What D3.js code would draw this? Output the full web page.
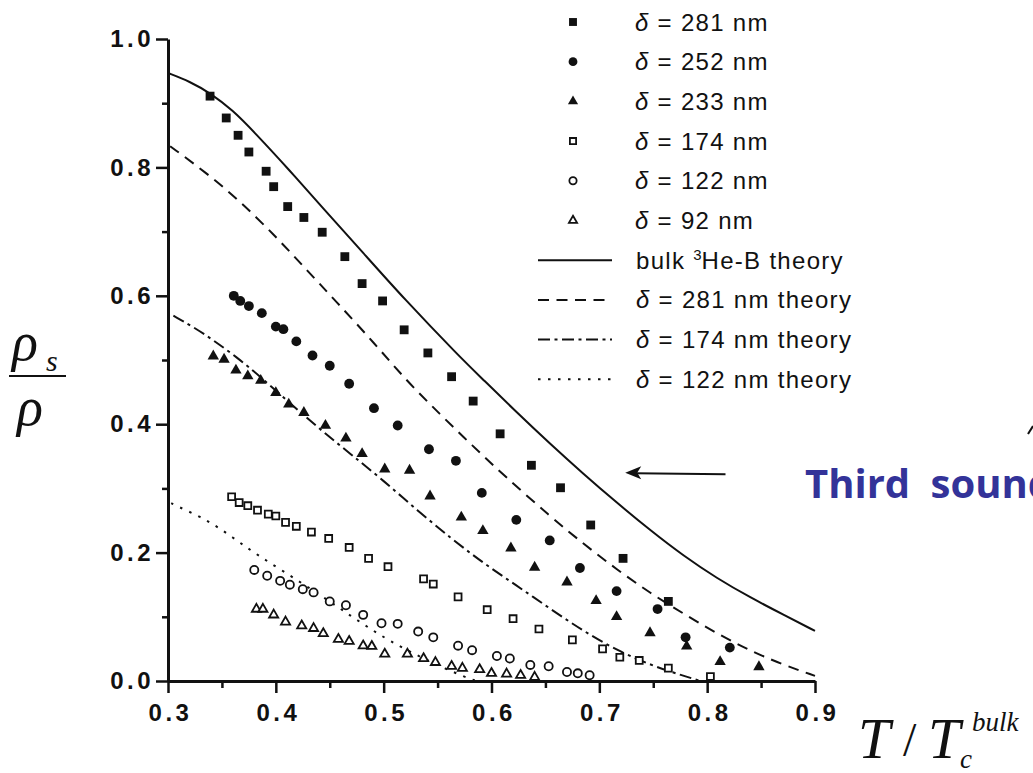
<!DOCTYPE html>
<html><head><meta charset="utf-8">
<script src="https://cdn.jsdelivr.net/npm/d3@7"></script>
<style>
html,body{margin:0;padding:0;background:#fff;}
svg{display:block;}
</style></head>
<body>
<svg id="chart" width="1033" height="773"></svg>
<script>
// ---------- data ----------
const xTicks = [0.3, 0.4, 0.5, 0.6, 0.7, 0.8, 0.9];
const xMinorTicks = [0.35, 0.45, 0.55, 0.65, 0.75, 0.85];
const yTicks = [0.0, 0.2, 0.4, 0.6, 0.8, 1.0];
const yMinorTicks = [0.1, 0.3, 0.5, 0.7, 0.9];

// measured superfluid fraction, [T/Tc, rho_s/rho]
const d281 = [[0.339,0.911],[0.354,0.877],[0.365,0.850],[0.375,0.824],[0.391,0.794],[0.398,0.770],
  [0.411,0.739],[0.426,0.722],[0.443,0.699],[0.464,0.661],[0.480,0.619],[0.499,0.592],[0.519,0.547],
  [0.541,0.511],[0.563,0.474],[0.583,0.436],[0.608,0.385],[0.637,0.336],[0.664,0.301],[0.692,0.243],
  [0.722,0.191],[0.764,0.124]];
const d252 = [[0.361,0.600],[0.367,0.592],[0.375,0.584],[0.387,0.573],[0.400,0.552],[0.407,0.548],
  [0.419,0.529],[0.434,0.507],[0.450,0.491],[0.468,0.463],[0.491,0.425],[0.513,0.398],[0.542,0.361],
  [0.567,0.343],[0.591,0.293],[0.623,0.251],[0.654,0.219],[0.682,0.176],[0.716,0.140],[0.754,0.112],
  [0.780,0.068],[0.821,0.052]];
const d233 = [[0.342,0.506],[0.352,0.501],[0.363,0.484],[0.374,0.475],[0.386,0.468],[0.400,0.449],
  [0.412,0.431],[0.426,0.418],[0.446,0.398],[0.465,0.378],[0.480,0.354],[0.501,0.330],[0.524,0.328],
  [0.543,0.288],[0.572,0.255],[0.592,0.234],[0.618,0.207],[0.640,0.177],[0.670,0.154],[0.697,0.125],
  [0.716,0.100],[0.747,0.075],[0.781,0.054],[0.812,0.030],[0.848,0.022]];
const d174 = [[0.359,0.287],[0.366,0.278],[0.374,0.273],[0.383,0.266],[0.393,0.260],[0.400,0.257],
  [0.409,0.247],[0.419,0.241],[0.433,0.232],[0.449,0.222],[0.468,0.208],[0.486,0.191],[0.504,0.178],
  [0.537,0.159],[0.546,0.151],[0.569,0.131],[0.596,0.111],[0.620,0.097],[0.644,0.081],[0.675,0.064],
  [0.703,0.050],[0.719,0.037],[0.737,0.032],[0.764,0.020],[0.803,0.007]];
const d122 = [[0.380,0.173],[0.392,0.164],[0.404,0.156],[0.413,0.150],[0.425,0.143],[0.435,0.138],
  [0.450,0.124],[0.465,0.118],[0.481,0.103],[0.498,0.090],[0.513,0.089],[0.532,0.077],[0.546,0.068],
  [0.569,0.055],[0.582,0.048],[0.605,0.039],[0.617,0.035],[0.636,0.025],[0.653,0.023],[0.670,0.014],
  [0.680,0.012],[0.691,0.009]];
const d92 = [[0.382,0.112],[0.388,0.112],[0.398,0.103],[0.409,0.092],[0.424,0.086],[0.435,0.082],
  [0.444,0.074],[0.458,0.065],[0.468,0.062],[0.481,0.055],[0.489,0.054],[0.501,0.042],[0.522,0.042],
  [0.537,0.035],[0.548,0.029],[0.563,0.023],[0.573,0.020],[0.589,0.018],[0.600,0.012],[0.614,0.011],
  [0.627,0.009],[0.640,0.006]];

// theory curves
const theoryBulk = [[0.300,0.947],[0.320,0.934],[0.340,0.915],[0.360,0.889],[0.380,0.855],[0.413,0.795],
  [0.444,0.736],[0.481,0.667],[0.518,0.597],[0.571,0.504],[0.592,0.470],[0.623,0.419],[0.654,0.370],
  [0.685,0.323],[0.716,0.278],[0.747,0.235],[0.778,0.195],[0.809,0.160],[0.840,0.130],[0.871,0.103],
  [0.900,0.078]];
const theory281 = [[0.302,0.833],[0.336,0.791],[0.367,0.747],[0.399,0.694],[0.426,0.645],[0.456,0.591],
  [0.492,0.525],[0.521,0.468],[0.552,0.416],[0.582,0.367],[0.613,0.318],[0.654,0.257],[0.685,0.214],
  [0.716,0.174],[0.747,0.137],[0.778,0.105],[0.809,0.074],[0.840,0.047],[0.871,0.025],[0.900,0.008]];
const theory174 = [[0.305,0.569],[0.323,0.552],[0.342,0.531],[0.364,0.504],[0.385,0.475],[0.413,0.433],
  [0.441,0.392],[0.469,0.354],[0.500,0.312],[0.531,0.266],[0.562,0.223],[0.592,0.184],[0.623,0.149],
  [0.654,0.113],[0.685,0.078],[0.716,0.048],[0.747,0.025],[0.778,0.008],[0.794,0.000]];
const theory122 = [[0.303,0.277],[0.310,0.271],[0.330,0.256],[0.348,0.238],[0.367,0.215],[0.385,0.194],
  [0.407,0.171],[0.429,0.147],[0.450,0.124],[0.469,0.102],[0.487,0.082],[0.506,0.062],[0.531,0.040],
  [0.552,0.023],[0.577,0.005],[0.586,0.000]];

const markerSeries = [
  {label: "281", data: d281, shape: "square", filled: true},
  {label: "252", data: d252, shape: "circle", filled: true},
  {label: "233", data: d233, shape: "triangle", filled: true},
  {label: "174", data: d174, shape: "square", filled: false},
  {label: "122", data: d122, shape: "circle", filled: false},
  {label: "92",  data: d92,  shape: "triangle", filled: false}
];
const lineSeries = [
  {label: "bulk", data: theoryBulk, dash: null},
  {label: "281",  data: theory281,  dash: "11,7.5"},
  {label: "174",  data: theory174,  dash: "12,4.5,3,4.5"},
  {label: "122",  data: theory122,  dash: "2.5,7.5"}
];

// ---------- layout ----------
const svg = d3.select("#chart");
svg.append("rect").attr("width", 1033).attr("height", 773).attr("fill", "#fff");

const x = d3.scaleLinear().domain([0.3, 0.9]).range([168, 815]);
const y = d3.scaleLinear().domain([0, 1]).range([681, 39]);

const sansFont = "'Liberation Sans', Arial, sans-serif";

// symbol generators
const symType = {square: d3.symbolSquare, circle: d3.symbolCircle, triangle: d3.symbolTriangle};
const filledSize = {square: 78, circle: 76, triangle: 56};
const openSize = {square: 48, circle: 52, triangle: 36};

function symbolPath(s, scale) {
  const size = (s.filled ? filledSize : openSize)[s.shape] * (scale || 1);
  return d3.symbol().type(symType[s.shape]).size(size)();
}
function styleSymbol(sel, s) {
  if (s.filled) sel.attr("fill", "#111").attr("stroke", "none");
  else sel.attr("fill", "#fff").attr("stroke", "#111").attr("stroke-width", 1.8);
}

// ---------- theory curves ----------
const line = d3.line().x(d => x(d[0])).y(d => y(d[1])).curve(d3.curveBasis);
lineSeries.forEach(s => {
  svg.append("path").datum(s.data)
    .attr("d", line)
    .attr("fill", "none")
    .attr("stroke", "#111")
    .attr("stroke-width", 2)
    .attr("stroke-dasharray", s.dash);
});

// ---------- data points ----------
markerSeries.forEach(s => {
  const p = symbolPath(s);
  svg.append("g").selectAll("path").data(s.data).join("path")
    .attr("d", p)
    .attr("transform", d => `translate(${x(d[0])},${y(d[1])})`)
    .call(styleSymbol, s);
});

// ---------- axes ----------
const axisG = svg.append("g");
const xAxis = axisG.append("g").attr("transform", `translate(0,${y(0)})`)
  .call(d3.axisBottom(x).tickValues(xTicks).tickSize(12).tickSizeOuter(0).tickPadding(6)
    .tickFormat(d3.format(".1f")));
axisG.append("g").attr("transform", `translate(0,${y(0)})`)
  .call(d3.axisBottom(x).tickValues(xMinorTicks).tickSize(7).tickFormat(""))
  .select(".domain").remove();
const yAxis = axisG.append("g").attr("transform", `translate(${x(0.3)},0)`)
  .call(d3.axisLeft(y).tickValues(yTicks).tickSize(12).tickSizeOuter(0).tickPadding(2)
    .tickFormat(d3.format(".1f")));
axisG.append("g").attr("transform", `translate(${x(0.3)},0)`)
  .call(d3.axisLeft(y).tickValues(yMinorTicks).tickSize(6).tickFormat(""))
  .select(".domain").remove();

axisG.selectAll(".domain").attr("stroke", "#111").attr("stroke-width", 3);
axisG.selectAll(".tick line").attr("stroke", "#111").attr("stroke-width", 2.5);
axisG.selectAll(".tick text")
  .attr("fill", "#111")
  .style("font-family", sansFont)
  .style("font-weight", "bold")
  .style("font-size", "24px")
  .style("letter-spacing", "3.5px");
xAxis.selectAll(".tick text").attr("dy", "0.9em").attr("dx", "2px");

// ---------- legend ----------
const legend = svg.append("g").style("font-family", sansFont).style("font-size", "24px")
  .style("letter-spacing", "1.3px").attr("fill", "#111");
const rowY = i => 22 + i * 39.7;

markerSeries.forEach((s, i) => {
  legend.append("path")
    .attr("d", symbolPath(s, 0.8))
    .attr("transform", `translate(573,${rowY(i)})`)
    .call(styleSymbol, s);
  const t = legend.append("text").attr("x", 635).attr("y", rowY(i) + 8.5);
  t.append("tspan").style("font-style", "italic").text("δ");
  t.append("tspan").text(` = ${s.label} nm`);
});

lineSeries.forEach((s, j) => {
  const i = j + 6;
  legend.append("line")
    .attr("x1", 538).attr("x2", 612).attr("y1", rowY(i)).attr("y2", rowY(i))
    .attr("stroke", "#111").attr("stroke-width", 2)
    .attr("stroke-dasharray", s.dash);
  const t = legend.append("text").attr("x", 636).attr("y", rowY(i) + 8.5);
  if (s.label === "bulk") {
    t.append("tspan").text("bulk ");
    t.append("tspan").attr("dy", -9).style("font-size", "15px").style("letter-spacing", "0px").text("3");
    t.append("tspan").attr("dy", 9).text("He-B theory");
  } else {
    t.append("tspan").style("font-style", "italic").text("δ");
    t.append("tspan").text(` = ${s.label} nm theory`);
  }
});

// ---------- axis titles ----------
const serif = "'Liberation Serif', 'Times New Roman', serif";
const yTitle = svg.append("g").style("font-family", serif).style("font-style", "italic").attr("fill", "#111");
yTitle.append("text").attr("x", 12).attr("y", 360).style("font-size", "54px").text("ρ");
yTitle.append("text").attr("x", 46).attr("y", 371).style("font-size", "30px").text("s");
yTitle.append("line").attr("x1", 9).attr("x2", 66).attr("y1", 376).attr("y2", 376)
  .attr("stroke", "#111").attr("stroke-width", 2.2);
yTitle.append("text").attr("x", 17).attr("y", 425).style("font-size", "54px").text("ρ");

const xTitle = svg.append("g").style("font-family", serif).style("font-style", "italic").attr("fill", "#111");
xTitle.append("text").attr("x", 858).attr("y", 758).style("font-size", "58px").text("T");
xTitle.append("text").attr("x", 903).attr("y", 756).style("font-size", "48px").style("font-style", "normal").text("/");
xTitle.append("text").attr("x", 928).attr("y", 758).style("font-size", "58px").text("T");
xTitle.append("text").attr("x", 960).attr("y", 768).style("font-size", "27px").text("c");
xTitle.append("text").attr("x", 972).attr("y", 731).style("font-size", "27px").text("bulk");

// ---------- annotation ----------
const note = svg.append("g");
const ax0 = x(0.817), ax1 = x(0.724), ay = y(0.322);
note.append("line").attr("x1", ax0).attr("y1", ay).attr("x2", ax1 + 10).attr("y2", ay - 1)
  .attr("stroke", "#111").attr("stroke-width", 2);
note.append("path")
  .attr("d", `M${ax1},${ay - 1.5} L${ax1 + 16},${ay - 8} L${ax1 + 12},${ay - 1.5} L${ax1 + 16},${ay + 5} Z`)
  .attr("fill", "#111");
note.append("line").attr("x1", 1028).attr("y1", 434).attr("x2", 1033).attr("y2", 426)
  .attr("stroke", "#111").attr("stroke-width", 2);
note.append("text").attr("x", 805).attr("y", 498)
  .attr("fill", "#333399")
  .style("font-family", "'Open Sans', Roboto, sans-serif")
  .style("font-weight", "bold").style("font-size", "40px")
  .style("word-spacing", "10px")
  .text("Third sound");
</script>
</body></html>
